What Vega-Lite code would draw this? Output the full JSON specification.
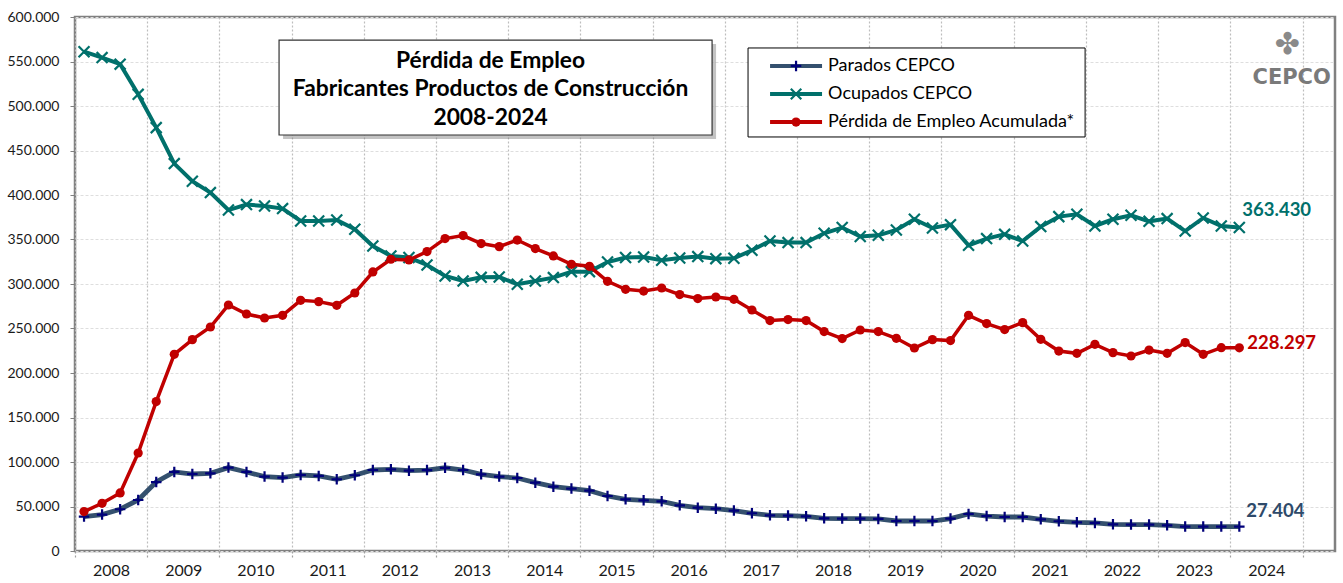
{
  "$schema": "https://vega.github.io/schema/vega-lite/v6.json",
  "width": 1260,
  "height": 534,
  "autosize": "none",
  "padding": {"left": 75, "top": 17, "right": 8, "bottom": 32},
  "background": "white",
  "config": {
    "font": "Lato",
    "locale": {"number": {"decimal": ",", "thousands": ".", "grouping": [3], "currency": ["", " €"]}},
    "view": {"stroke": "#808080", "strokeWidth": 2.5},
    "axis": {"domain": false, "title": null}
  },
  "datasets": {
    "d": [
      {"t":2008.125,"par":38700,"ocu":561000,"per":44300},
      {"t":2008.375,"par":40900,"ocu":554400,"per":53600},
      {"t":2008.625,"par":46900,"ocu":547000,"per":65200},
      {"t":2008.875,"par":57300,"ocu":513100,"per":110100},
      {"t":2009.125,"par":77500,"ocu":475700,"per":167900},
      {"t":2009.375,"par":88800,"ocu":435300,"per":221000},
      {"t":2009.625,"par":86500,"ocu":415400,"per":237500},
      {"t":2009.875,"par":87300,"ocu":402700,"per":251700},
      {"t":2010.125,"par":93700,"ocu":383100,"per":276400},
      {"t":2010.375,"par":88800,"ocu":389200,"per":266300},
      {"t":2010.625,"par":83600,"ocu":387600,"per":261800},
      {"t":2010.875,"par":82500,"ocu":384700,"per":264800},
      {"t":2011.125,"par":85400,"ocu":370800,"per":281700},
      {"t":2011.375,"par":84300,"ocu":370800,"per":280200},
      {"t":2011.625,"par":80600,"ocu":371900,"per":276100},
      {"t":2011.875,"par":85100,"ocu":361500,"per":289900},
      {"t":2012.125,"par":91000,"ocu":342700,"per":313500},
      {"t":2012.375,"par":91800,"ocu":331500,"per":327800},
      {"t":2012.625,"par":90300,"ocu":329700,"per":327000},
      {"t":2012.875,"par":90900,"ocu":321400,"per":336400},
      {"t":2013.125,"par":93500,"ocu":309000,"per":351000},
      {"t":2013.375,"par":91000,"ocu":303400,"per":354400},
      {"t":2013.625,"par":86200,"ocu":307500,"per":345400},
      {"t":2013.875,"par":83600,"ocu":307900,"per":342000},
      {"t":2014.125,"par":82000,"ocu":299700,"per":349400},
      {"t":2014.375,"par":76800,"ocu":303400,"per":339800},
      {"t":2014.625,"par":72300,"ocu":307200,"per":331500},
      {"t":2014.875,"par":70100,"ocu":313900,"per":322100},
      {"t":2015.125,"par":67800,"ocu":313900,"per":319900},
      {"t":2015.375,"par":61800,"ocu":324700,"per":303000},
      {"t":2015.625,"par":58100,"ocu":329700,"per":294000},
      {"t":2015.875,"par":56900,"ocu":330300,"per":292100},
      {"t":2016.125,"par":55800,"ocu":326600,"per":295500},
      {"t":2016.375,"par":51300,"ocu":329200,"per":288100},
      {"t":2016.625,"par":48700,"ocu":330800,"per":283600},
      {"t":2016.875,"par":47600,"ocu":328500,"per":285400},
      {"t":2017.125,"par":45400,"ocu":328900,"per":282800},
      {"t":2017.375,"par":42400,"ocu":337900,"per":270800},
      {"t":2017.625,"par":40100,"ocu":348300,"per":258900},
      {"t":2017.875,"par":39800,"ocu":346500,"per":260000},
      {"t":2018.125,"par":39000,"ocu":346500,"per":258900},
      {"t":2018.375,"par":36700,"ocu":357000,"per":246500},
      {"t":2018.625,"par":36400,"ocu":363400,"per":238700},
      {"t":2018.875,"par":36400,"ocu":353300,"per":248300},
      {"t":2019.125,"par":36000,"ocu":354700,"per":246500},
      {"t":2019.375,"par":33700,"ocu":360700,"per":239000},
      {"t":2019.625,"par":33700,"ocu":372700,"per":228100},
      {"t":2019.875,"par":33700,"ocu":362900,"per":237500},
      {"t":2020.125,"par":36400,"ocu":366700,"per":236400},
      {"t":2020.375,"par":41600,"ocu":343500,"per":264800},
      {"t":2020.625,"par":39300,"ocu":351000,"per":255500},
      {"t":2020.875,"par":38200,"ocu":355800,"per":248800},
      {"t":2021.125,"par":38200,"ocu":348300,"per":256600},
      {"t":2021.375,"par":35600,"ocu":364500,"per":237900},
      {"t":2021.625,"par":33400,"ocu":375700,"per":224700},
      {"t":2021.875,"par":32200,"ocu":378300,"per":222100},
      {"t":2022.125,"par":31500,"ocu":365200,"per":232200},
      {"t":2022.375,"par":30000,"ocu":372700,"per":222900},
      {"t":2022.625,"par":29700,"ocu":377200,"per":219100},
      {"t":2022.875,"par":29700,"ocu":370400,"per":225800},
      {"t":2023.125,"par":28900,"ocu":373500,"per":222100},
      {"t":2023.375,"par":27400,"ocu":359500,"per":234200},
      {"t":2023.625,"par":27400,"ocu":374200,"per":221000},
      {"t":2023.875,"par":27400,"ocu":365200,"per":228500},
      {"t":2024.125,"par":27404,"ocu":363430,"per":228297}
    ]
  },
  "layer": [
    {
      "data": {"name": "d"},
      "mark": {"type": "line", "color": "#34506E", "strokeWidth": 4.8},
      "encoding": {
        "x": {"field": "t", "type": "quantitative", "scale": {"domain": [2008, 2025.45], "nice": false, "zero": false},
          "axis": {"values": [2008,2009,2010,2011,2012,2013,2014,2015,2016,2017,2018,2019,2020,2021,2022,2023,2024,2025],
            "grid": true, "gridColor": "#bdbdbd", "gridDash": [2, 2], "gridWidth": 1.2,
            "ticks": true, "tickSize": 7, "tickColor": "#a0a0a0", "tickDash": [2, 2], "tickWidth": 1.2,
            "labelOffset": 36, "labelExpr": "datum.value >= 2025 ? '' : '' + datum.value",
            "labelFontSize": 16, "labelColor": "#1a1a1a", "labelPadding": 4, "labelOverlap": false, "labelFlush": false, "labelBound": false, "title": null}},
        "y": {"field": "par", "type": "quantitative", "scale": {"domain": [0, 600000], "nice": false},
          "axis": {"values": [0,50000,100000,150000,200000,250000,300000,350000,400000,450000,500000,550000,600000],
            "labelExpr": "replace(format(datum.value, ','), ',', '.')", "grid": true, "gridColor": "#dedede", "gridDash": [3, 2], "gridWidth": 1,
            "tickSize": 5, "tickColor": "#808080", "labelFontSize": 14, "labelPadding": 11, "labelColor": "#1a1a1a", "labelOverlap": false, "labelBound": false, "title": null}}
      }
    },
    {
      "data": {"name": "d"},
      "mark": {"type": "point", "shape": "M-1,0L1,0M0,-1L0,1", "filled": false, "stroke": "#00007A", "strokeWidth": 2.2, "size": 110, "opacity": 1},
      "encoding": {
        "x": {"field": "t", "type": "quantitative", "scale": {"domain": [2008, 2025.45], "nice": false, "zero": false}},
        "y": {"field": "par", "type": "quantitative", "scale": {"domain": [0, 600000], "nice": false}}
      }
    },
    {
      "data": {"name": "d"},
      "mark": {"type": "line", "color": "#00706B", "strokeWidth": 4},
      "encoding": {
        "x": {"field": "t", "type": "quantitative", "scale": {"domain": [2008, 2025.45], "nice": false, "zero": false}},
        "y": {"field": "ocu", "type": "quantitative", "scale": {"domain": [0, 600000], "nice": false}}
      }
    },
    {
      "data": {"name": "d"},
      "mark": {"type": "point", "shape": "M-1,-1L1,1M-1,1L1,-1", "filled": false, "stroke": "#00706B", "strokeWidth": 2.2, "size": 120, "opacity": 1},
      "encoding": {
        "x": {"field": "t", "type": "quantitative", "scale": {"domain": [2008, 2025.45], "nice": false, "zero": false}},
        "y": {"field": "ocu", "type": "quantitative", "scale": {"domain": [0, 600000], "nice": false}}
      }
    },
    {
      "data": {"name": "d"},
      "mark": {"type": "line", "color": "#C00000", "strokeWidth": 3.5},
      "encoding": {
        "x": {"field": "t", "type": "quantitative", "scale": {"domain": [2008, 2025.45], "nice": false, "zero": false}},
        "y": {"field": "per", "type": "quantitative", "scale": {"domain": [0, 600000], "nice": false}}
      }
    },
    {
      "data": {"name": "d"},
      "mark": {"type": "point", "shape": "circle", "filled": true, "color": "#C00000", "size": 85, "opacity": 1},
      "encoding": {
        "x": {"field": "t", "type": "quantitative", "scale": {"domain": [2008, 2025.45], "nice": false, "zero": false}},
        "y": {"field": "per", "type": "quantitative", "scale": {"domain": [0, 600000], "nice": false}}
      }
    },
    {
      "data": {"name": "d"},
      "transform": [{"filter": "datum.t == 2024.125"}],
      "mark": {"type": "text", "align": "left", "baseline": "middle", "dx": 3, "dy": -18, "fontSize": 18.5, "fontWeight": "bold", "color": "#00706B"},
      "encoding": {
        "x": {"field": "t", "type": "quantitative", "scale": {"domain": [2008, 2025.45], "nice": false, "zero": false}},
        "y": {"field": "ocu", "type": "quantitative", "scale": {"domain": [0, 600000], "nice": false}},
        "text": {"field": "ocu", "type": "quantitative", "format": ","}
      }
    },
    {
      "data": {"name": "d"},
      "transform": [{"filter": "datum.t == 2024.125"}],
      "mark": {"type": "text", "align": "left", "baseline": "middle", "dx": 8, "dy": -5, "fontSize": 18.5, "fontWeight": "bold", "color": "#C00000"},
      "encoding": {
        "x": {"field": "t", "type": "quantitative", "scale": {"domain": [2008, 2025.45], "nice": false, "zero": false}},
        "y": {"field": "per", "type": "quantitative", "scale": {"domain": [0, 600000], "nice": false}},
        "text": {"field": "per", "type": "quantitative", "format": ","}
      }
    },
    {
      "data": {"name": "d"},
      "transform": [{"filter": "datum.t == 2024.125"}],
      "mark": {"type": "text", "align": "left", "baseline": "middle", "dx": 7, "dy": -16, "fontSize": 18.5, "fontWeight": "bold", "color": "#2E4A6A"},
      "encoding": {
        "x": {"field": "t", "type": "quantitative", "scale": {"domain": [2008, 2025.45], "nice": false, "zero": false}},
        "y": {"field": "par", "type": "quantitative", "scale": {"domain": [0, 600000], "nice": false}},
        "text": {"field": "par", "type": "quantitative", "format": ","}
      }
    },
    {
      "data": {"values": [{"x1": 2010.826, "x2": 2016.823, "y1": 574100, "y2": 467400}]},
      "mark": {"type": "rect", "fill": "#7a7a7a", "opacity": 0.45, "xOffset": 4, "x2Offset": 4, "yOffset": 4, "y2Offset": 4},
      "encoding": {
        "x": {"field": "x1", "type": "quantitative", "scale": {"domain": [2008, 2025.45], "nice": false, "zero": false}},
        "x2": {"field": "x2"},
        "y": {"field": "y1", "type": "quantitative", "scale": {"domain": [0, 600000], "nice": false}},
        "y2": {"field": "y2"}
      }
    },
    {
      "data": {"values": [{"x1": 2010.826, "x2": 2016.823, "y1": 574100, "y2": 467400}]},
      "mark": {"type": "rect", "fill": "white", "stroke": "#333333", "strokeWidth": 1.2},
      "encoding": {
        "x": {"field": "x1", "type": "quantitative", "scale": {"domain": [2008, 2025.45], "nice": false, "zero": false}},
        "x2": {"field": "x2"},
        "y": {"field": "y1", "type": "quantitative", "scale": {"domain": [0, 600000], "nice": false}},
        "y2": {"field": "y2"}
      }
    },
    {
      "data": {"values": [{"x": 2013.755, "y": 550600, "txt": "Pérdida de Empleo\nFabricantes Productos de Construcción\n2008-2024"}]},
      "mark": {"type": "text", "align": "center", "baseline": "middle", "lineBreak": "\n", "lineHeight": 28.5, "fontSize": 22.8, "fontWeight": "bold", "color": "#000000"},
      "encoding": {
        "x": {"field": "x", "type": "quantitative", "scale": {"domain": [2008, 2025.45], "nice": false, "zero": false}},
        "y": {"field": "y", "type": "quantitative", "scale": {"domain": [0, 600000], "nice": false}},
        "text": {"field": "txt"}
      }
    },
    {
      "data": {"values": [{"x1": 2017.321, "x2": 2021.989, "y1": 565200, "y2": 465200}]},
      "mark": {"type": "rect", "fill": "white", "stroke": "#000000", "strokeWidth": 1},
      "encoding": {
        "x": {"field": "x1", "type": "quantitative", "scale": {"domain": [2008, 2025.45], "nice": false, "zero": false}},
        "x2": {"field": "x2"},
        "y": {"field": "y1", "type": "quantitative", "scale": {"domain": [0, 600000], "nice": false}},
        "y2": {"field": "y2"}
      }
    },
    {
      "data": {"values": [
        {"s": "Parados CEPCO", "y": 545000},
        {"s": "Ocupados CEPCO", "y": 513500},
        {"s": "Pérdida de Empleo Acumulada*", "y": 482000}
      ]},
      "mark": {"type": "rule", "strokeWidth": 4},
      "encoding": {
        "x": {"datum": 2017.626, "type": "quantitative", "scale": {"domain": [2008, 2025.45], "nice": false, "zero": false}},
        "x2": {"datum": 2018.346},
        "y": {"field": "y", "type": "quantitative", "scale": {"domain": [0, 600000], "nice": false}},
        "color": {"field": "s", "type": "nominal", "scale": {"domain": ["Parados CEPCO", "Ocupados CEPCO", "Pérdida de Empleo Acumulada*"], "range": ["#34506E", "#00706B", "#C00000"]}, "legend": null}
      }
    },
    {
      "data": {"values": [{"s": "Parados CEPCO", "y": 545000}]},
      "mark": {"type": "point", "shape": "M-1,0L1,0M0,-1L0,1", "filled": false, "stroke": "#00007A", "strokeWidth": 2.2, "size": 110, "opacity": 1},
      "encoding": {
        "x": {"datum": 2017.986, "type": "quantitative", "scale": {"domain": [2008, 2025.45], "nice": false, "zero": false}},
        "y": {"field": "y", "type": "quantitative", "scale": {"domain": [0, 600000], "nice": false}}
      }
    },
    {
      "data": {"values": [{"s": "Ocupados CEPCO", "y": 513500}]},
      "mark": {"type": "point", "shape": "M-1,-1L1,1M-1,1L1,-1", "filled": false, "stroke": "#00706B", "strokeWidth": 2.2, "size": 110, "opacity": 1},
      "encoding": {
        "x": {"datum": 2017.986, "type": "quantitative", "scale": {"domain": [2008, 2025.45], "nice": false, "zero": false}},
        "y": {"field": "y", "type": "quantitative", "scale": {"domain": [0, 600000], "nice": false}}
      }
    },
    {
      "data": {"values": [{"s": "Pérdida de Empleo Acumulada*", "y": 482000}]},
      "mark": {"type": "point", "shape": "circle", "filled": true, "color": "#C00000", "size": 85, "opacity": 1},
      "encoding": {
        "x": {"datum": 2017.986, "type": "quantitative", "scale": {"domain": [2008, 2025.45], "nice": false, "zero": false}},
        "y": {"field": "y", "type": "quantitative", "scale": {"domain": [0, 600000], "nice": false}}
      }
    },
    {
      "data": {"values": [
        {"s": "Parados CEPCO", "y": 545000},
        {"s": "Ocupados CEPCO", "y": 513500},
        {"s": "Pérdida de Empleo Acumulada*", "y": 482000}
      ]},
      "mark": {"type": "text", "align": "left", "baseline": "middle", "fontSize": 18, "color": "#000000", "dx": 1},
      "encoding": {
        "x": {"datum": 2018.416, "type": "quantitative", "scale": {"domain": [2008, 2025.45], "nice": false, "zero": false}},
        "y": {"field": "y", "type": "quantitative", "scale": {"domain": [0, 600000], "nice": false}},
        "text": {"field": "s"}
      }
    },
    {
      "data": {"values": [{"x": 2024.79, "y": 569000, "txt": "✤"}]},
      "mark": {"type": "text", "align": "center", "baseline": "middle", "font": "DejaVu Sans", "fontSize": 30, "color": "#8a8a8a"},
      "encoding": {
        "x": {"field": "x", "type": "quantitative", "scale": {"domain": [2008, 2025.45], "nice": false, "zero": false}},
        "y": {"field": "y", "type": "quantitative", "scale": {"domain": [0, 600000], "nice": false}},
        "text": {"field": "txt"}
      }
    },
    {
      "data": {"values": [{"x": 2024.85, "y": 531000, "txt": "CEPCO"}]},
      "mark": {"type": "text", "align": "center", "baseline": "middle", "font": "DejaVu Sans", "fontSize": 21, "fontWeight": "bold", "color": "#7a7a7a"},
      "encoding": {
        "x": {"field": "x", "type": "quantitative", "scale": {"domain": [2008, 2025.45], "nice": false, "zero": false}},
        "y": {"field": "y", "type": "quantitative", "scale": {"domain": [0, 600000], "nice": false}},
        "text": {"field": "txt"}
      }
    }
  ]
}
